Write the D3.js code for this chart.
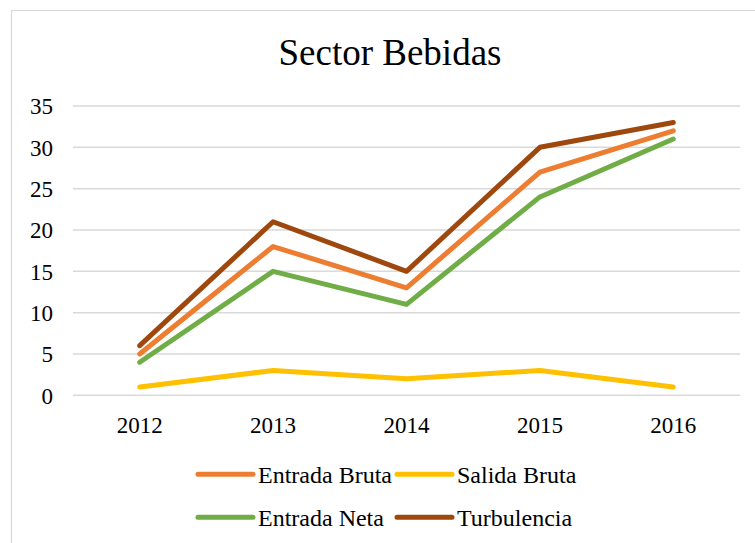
<!DOCTYPE html>
<html><head><meta charset="utf-8">
<script src="https://cdn.jsdelivr.net/npm/d3@7"></script>
<style>body{margin:0;background:#fff}svg{display:block}</style>
</head><body>
<svg id="c" width="755" height="543"></svg>
<script>
const categories = ["2012","2013","2014","2015","2016"];
const entradaBruta = [5, 18, 13, 27, 32];
const salidaBruta = [1, 3, 2, 3, 1];
const entradaNeta = [4, 15, 11, 24, 31];
const turbulencia = [6, 21, 15, 30, 33];
const yTicks = [0, 5, 10, 15, 20, 25, 30, 35];
const seriesNames = ["Entrada Bruta", "Salida Bruta", "Entrada Neta", "Turbulencia"];
const seriesColors = ["#ED7D31", "#FFC000", "#70AD47", "#9E480E"];
const seriesValues = [entradaBruta, salidaBruta, entradaNeta, turbulencia];

const svg = d3.select("#c");
const font = "'Liberation Serif','Times New Roman',serif";

svg.append("rect").attr("x",11.5).attr("y",10.5).attr("width",800).attr("height",600)
  .attr("fill","#fff").attr("stroke","#d9d9d9").attr("stroke-width",1.2);

svg.append("text").attr("x",390).attr("y",65).attr("text-anchor","middle")
  .attr("font-family",font).attr("font-size",37).attr("fill","#000").text("Sector Bebidas");

const x = d3.scaleBand().domain(categories).range([73,740]);
const y = d3.scaleLinear().domain([0,35]).range([395.3,106]);

const g = svg.append("g");
g.selectAll("line.grid").data(yTicks).enter().append("line")
  .attr("x1",73).attr("x2",740).attr("y1",d=>y(d)).attr("y2",d=>y(d))
  .attr("stroke","#d9d9d9").attr("stroke-width",1.5);

const yAxis = d3.axisLeft(y).tickValues(yTicks).tickSize(0).tickPadding(0);
const ya = svg.append("g").attr("transform","translate(53,0)").call(yAxis);
ya.select(".domain").remove();
ya.selectAll("text").attr("font-family",font).attr("font-size",23).attr("fill","#000").attr("dy","0.34em");

const xAxis = d3.axisBottom(x).tickSize(0).tickPadding(0);
const xa = svg.append("g").attr("transform","translate(0,416)").call(xAxis);
xa.select(".domain").remove();
xa.selectAll("text").attr("font-family",font).attr("font-size",23).attr("fill","#000").attr("dy","0.72em");

const line = d3.line().x((d,i)=>x(categories[i])+x.bandwidth()/2).y(d=>y(d));
seriesValues.forEach((vals,k)=>{
  svg.append("path").datum(vals).attr("d",line).attr("fill","none")
    .attr("stroke",seriesColors[k]).attr("stroke-width",5)
    .attr("stroke-linecap","round").attr("stroke-linejoin","round");
});

const legendPos = [[198,474.3],[397,474.3],[198,517.3],[397,517.3]];
seriesNames.forEach((n,k)=>{
  const [lx,ly] = legendPos[k];
  svg.append("line").attr("x1",lx).attr("x2",lx+55).attr("y1",ly).attr("y2",ly)
    .attr("stroke",seriesColors[k]).attr("stroke-width",5).attr("stroke-linecap","round");
  svg.append("text").attr("x",lx+60).attr("y",ly+8.5).attr("font-family",font)
    .attr("font-size",24).attr("fill","#000").text(n);
});
</script>
</body></html>
